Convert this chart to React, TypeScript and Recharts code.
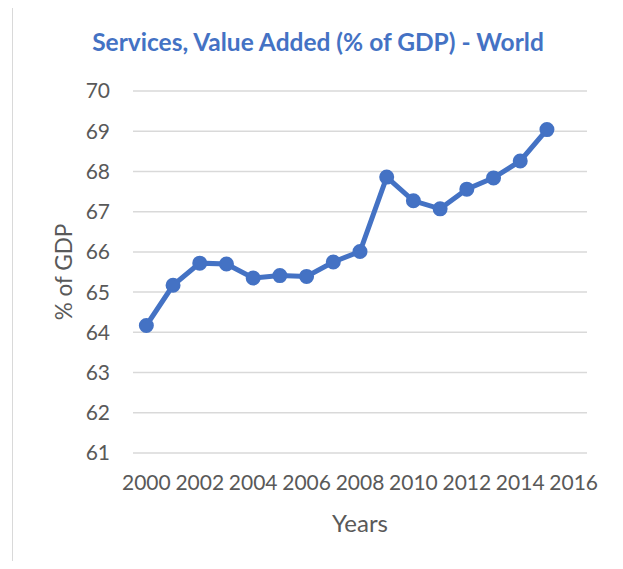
import React from 'react';
import { LineChart, Line, XAxis, YAxis, CartesianGrid } from 'recharts';

const years = [2000, 2001, 2002, 2003, 2004, 2005, 2006, 2007, 2008, 2009, 2010, 2011, 2012, 2013, 2014, 2015];
const servicesShare = [64.17, 65.17, 65.72, 65.7, 65.35, 65.41, 65.39, 65.75, 66.01, 67.86, 67.27, 67.07, 67.56, 67.84, 68.26, 69.04];
const xTicks = [2000, 2002, 2004, 2006, 2008, 2010, 2012, 2014, 2016];
const yTicks = [61, 62, 63, 64, 65, 66, 67, 68, 69, 70];

const data = years.map((year, i) => ({ year, value: servicesShare[i] }));

const FONT = 'Lato, "Open Sans", sans-serif';
const BLUE = '#4472c4';
const GREY_TEXT = '#595959';

export default function App() {
  return (
    <div style={{ position: 'relative', margin: -8, width: 623, height: 569, overflow: 'hidden', background: '#fff', fontFamily: FONT }}>
      <div
        style={{
          position: 'absolute',
          left: 12,
          top: 5,
          width: 700,
          height: 700,
          borderTop: '1.5px solid #d9d9d9',
          borderLeft: '1.5px solid #d9d9d9',
        }}
      />
      <div
        style={{
          position: 'absolute',
          left: 0,
          width: 636,
          top: 27,
          textAlign: 'center',
          color: BLUE,
          fontWeight: 700,
          fontSize: 24.5,
          lineHeight: '30px',
        }}
      >
        Services, Value Added (% of GDP) - World
      </div>
      <div style={{ position: 'absolute', left: 0, top: 0 }}>
        <LineChart width={623} height={569} data={data} margin={{ top: 91, right: 36, left: 59, bottom: 32 }}>
          <CartesianGrid vertical={false} stroke="#d9d9d9" strokeWidth={1.5} />
          <XAxis
            dataKey="year"
            type="number"
            domain={[1999.5, 2016.5]}
            ticks={xTicks}
            interval={0}
            axisLine={false}
            tickLine={false}
            tickSize={0}
            tickMargin={22}
            height={84}
            tick={{ fill: GREY_TEXT, fontSize: 21, fontFamily: FONT }}
            label={{ value: 'Years', position: 'insideBottom', offset: 5, fill: GREY_TEXT, fontSize: 24, fontFamily: FONT }}
          />
          <YAxis
            type="number"
            domain={[61, 70]}
            ticks={yTicks}
            interval={0}
            axisLine={false}
            tickLine={false}
            tickSize={0}
            tickMargin={23}
            width={74}
            tick={{ fill: GREY_TEXT, fontSize: 21, fontFamily: FONT }}
            label={{
              value: '% of GDP',
              angle: -90,
              position: 'insideLeft',
              offset: 5,
              fill: GREY_TEXT,
              fontSize: 22.5,
              fontFamily: FONT,
              style: { textAnchor: 'middle' },
            }}
          />
          <Line
            type="linear"
            dataKey="value"
            stroke={BLUE}
            strokeWidth={5}
            dot={{ r: 6.5, fill: BLUE, stroke: BLUE, strokeWidth: 2 }}
            isAnimationActive={false}
          />
        </LineChart>
      </div>
    </div>
  );
}
